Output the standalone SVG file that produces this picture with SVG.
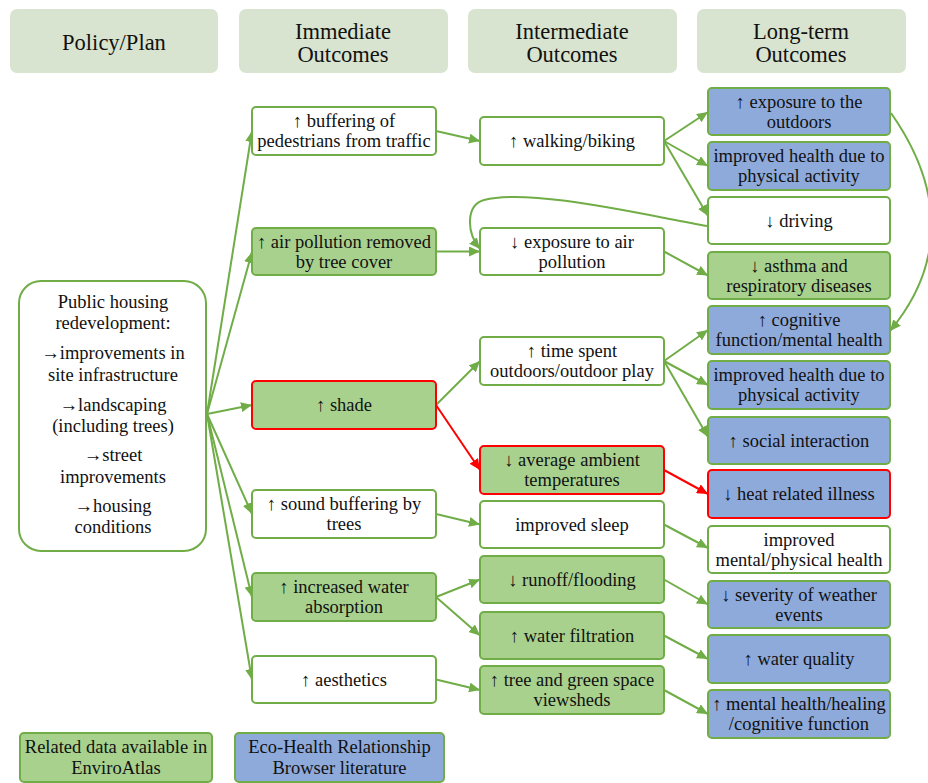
<svg xmlns="http://www.w3.org/2000/svg" width="928" height="783" viewBox="0 0 928 783">
<style>
.hdr{fill:#d8e4d0}
.ht{font-size:22.5px;fill:#111;text-anchor:middle}
.t{font-size:18.5px;fill:#111;text-anchor:middle}
.w{fill:#fff;stroke:#70ad47;stroke-width:2}
.g{fill:#a9d18e;stroke:#70ad47;stroke-width:2}
.b{fill:#8eaadb;stroke:#70ad47;stroke-width:2}
.gr{fill:#a9d18e;stroke:#ff0000;stroke-width:2}
.br{fill:#8eaadb;stroke:#ff0000;stroke-width:2}
.c{fill:none;stroke:#70ad47;stroke-width:2}
.cr{fill:none;stroke:#ff0000;stroke-width:2}
</style>
<defs>
<marker id="ag" markerUnits="userSpaceOnUse" markerWidth="12" markerHeight="10" refX="11" refY="5" orient="auto"><path d="M0,0 L11,5 L0,10 Z" fill="#70ad47"/></marker>
<marker id="ar" markerUnits="userSpaceOnUse" markerWidth="12" markerHeight="10" refX="11" refY="5" orient="auto"><path d="M0,0 L11,5 L0,10 Z" fill="#ff0000"/></marker>
</defs>
<rect width="928" height="783" fill="#fff"/>
<g font-family="'Liberation Serif', 'Times New Roman', 'DejaVu Serif', serif">
<g id="headers">
<rect class="hdr" x="10" y="9" width="208" height="64" rx="7"/>
<text class="ht" x="114" y="50">Policy/Plan</text>
<rect class="hdr" x="239" y="9" width="209" height="64" rx="7"/>
<text class="ht" x="343" y="39">Immediate</text><text class="ht" x="343" y="62">Outcomes</text>
<rect class="hdr" x="468" y="9" width="209" height="64" rx="7"/>
<text class="ht" x="572" y="39">Intermediate</text><text class="ht" x="572" y="62">Outcomes</text>
<rect class="hdr" x="697" y="9" width="209" height="64" rx="7"/>
<text class="ht" x="801" y="39">Long-term</text><text class="ht" x="801" y="62">Outcomes</text>
</g>
<g id="connectors">
<path class="c" marker-end="url(#ag)" d="M207,414 L252,131"/>
<path class="c" marker-end="url(#ag)" d="M207,414 L252,252"/>
<path class="c" marker-end="url(#ag)" d="M207,414 L252,405"/>
<path class="c" marker-end="url(#ag)" d="M207,414 L252,514"/>
<path class="c" marker-end="url(#ag)" d="M207,414 L252,597"/>
<path class="c" marker-end="url(#ag)" d="M207,414 L252,680"/>
<path class="c" marker-end="url(#ag)" d="M436,131 L480,141"/>
<path class="c" marker-end="url(#ag)" d="M436,251.5 L480,251.5"/>
<path class="c" marker-end="url(#ag)" d="M436,405 L480,361"/>
<path class="cr" marker-end="url(#ar)" d="M436,405 L480,470"/>
<path class="c" marker-end="url(#ag)" d="M436,514 L480,524.5"/>
<path class="c" marker-end="url(#ag)" d="M436,597 L480,579.5"/>
<path class="c" marker-end="url(#ag)" d="M436,597 L480,635.5"/>
<path class="c" marker-end="url(#ag)" d="M436,679.5 L480,690"/>
<path class="c" marker-end="url(#ag)" d="M664,141 L708,112"/>
<path class="c" marker-end="url(#ag)" d="M664,141 L708,166"/>
<path class="c" marker-end="url(#ag)" d="M664,141 L708,216"/>
<path class="c" marker-end="url(#ag)" d="M664,251.5 L708,275.5"/>
<path class="c" marker-end="url(#ag)" d="M707,226 C640,214 530,188 484,200 C466,205 466,232 480,249"/>
<path class="c" marker-end="url(#ag)" d="M664,361 L708,330"/>
<path class="c" marker-end="url(#ag)" d="M664,361 L708,385"/>
<path class="c" marker-end="url(#ag)" d="M664,361 L708,437"/>
<path class="cr" marker-end="url(#ar)" d="M664,470 L708,494"/>
<path class="c" marker-end="url(#ag)" d="M664,524.5 L708,548"/>
<path class="c" marker-end="url(#ag)" d="M664,579.5 L708,604.5"/>
<path class="c" marker-end="url(#ag)" d="M664,635.5 L708,659"/>
<path class="c" marker-end="url(#ag)" d="M664,690 L708,714"/>
<path class="c" marker-end="url(#ag)" d="M891,113 C945,190 945,265 890,331"/>
</g>
<g id="policy">
<rect class="w" x="19" y="281" width="187" height="270" rx="22"/>
<text class="t" x="113" y="308">Public housing</text>
<text class="t" x="113" y="329">redevelopment:</text>
<text class="t" x="113" y="359">→improvements in</text>
<text class="t" x="113" y="381">site infrastructure</text>
<text class="t" x="113" y="411">→landscaping</text>
<text class="t" x="113" y="432">(including trees)</text>
<text class="t" x="113" y="461">→street</text>
<text class="t" x="113" y="483">improvements</text>
<text class="t" x="113" y="512">→housing</text>
<text class="t" x="113" y="533">conditions</text>
</g>
<g id="imm1"><rect class="w" x="252" y="107" width="184" height="48" rx="4"/><text class="t" x="344" y="127">↑ buffering of</text><text class="t" x="344" y="147">pedestrians from traffic</text></g>
<g id="imm2"><rect class="g" x="252" y="228" width="184" height="47" rx="4"/><text class="t" x="344" y="247.5">↑ air pollution removed</text><text class="t" x="344" y="267.5">by tree cover</text></g>
<g id="imm3"><rect class="gr" x="252" y="381" width="184" height="48" rx="4"/><text class="t" x="344" y="411">↑ shade</text></g>
<g id="imm4"><rect class="w" x="252" y="490" width="184" height="48" rx="4"/><text class="t" x="344" y="510">↑ sound buffering by</text><text class="t" x="344" y="530">trees</text></g>
<g id="imm5"><rect class="g" x="252" y="573" width="184" height="48" rx="4"/><text class="t" x="344" y="593">↑ increased water</text><text class="t" x="344" y="613">absorption</text></g>
<g id="imm6"><rect class="w" x="252" y="656" width="184" height="47" rx="4"/><text class="t" x="344" y="685.5">↑ aesthetics</text></g>
<g id="int1"><rect class="w" x="480" y="117" width="184" height="48" rx="4"/><text class="t" x="572" y="147">↑ walking/biking</text></g>
<g id="int2"><rect class="w" x="480" y="228" width="184" height="47" rx="4"/><text class="t" x="572" y="247.5">↓ exposure to air</text><text class="t" x="572" y="267.5">pollution</text></g>
<g id="int3"><rect class="w" x="480" y="337" width="184" height="48" rx="4"/><text class="t" x="572" y="357">↑ time spent</text><text class="t" x="572" y="377">outdoors/outdoor play</text></g>
<g id="int4"><rect class="gr" x="480" y="446" width="184" height="48" rx="4"/><text class="t" x="572" y="466">↓ average ambient</text><text class="t" x="572" y="486">temperatures</text></g>
<g id="int5"><rect class="w" x="480" y="501" width="184" height="47" rx="4"/><text class="t" x="572" y="531">improved sleep</text></g>
<g id="int6"><rect class="g" x="480" y="556" width="184" height="47" rx="4"/><text class="t" x="572" y="586">↓ runoff/flooding</text></g>
<g id="int7"><rect class="g" x="480" y="612" width="184" height="47" rx="4"/><text class="t" x="572" y="641.5">↑ water filtration</text></g>
<g id="int8"><rect class="g" x="480" y="666" width="184" height="48" rx="4"/><text class="t" x="572" y="686">↑ tree and green space</text><text class="t" x="572" y="706">viewsheds</text></g>
<g id="lt1"><rect class="b" x="708" y="88" width="182" height="47" rx="4"/><text class="t" x="799" y="107.5">↑ exposure to the</text><text class="t" x="799" y="127.5">outdoors</text></g>
<g id="lt2"><rect class="b" x="708" y="142" width="182" height="48" rx="4"/><text class="t" x="799" y="162">improved health due to</text><text class="t" x="799" y="182">physical activity</text></g>
<g id="lt3"><rect class="w" x="708" y="197" width="182" height="47" rx="4"/><text class="t" x="799" y="226.5">↓ driving</text></g>
<g id="lt4"><rect class="g" x="708" y="252" width="182" height="47" rx="4"/><text class="t" x="799" y="271.5">↓ asthma and</text><text class="t" x="799" y="291.5">respiratory diseases</text></g>
<g id="lt5"><rect class="b" x="708" y="306" width="182" height="48" rx="4"/><text class="t" x="799" y="326">↑ cognitive</text><text class="t" x="799" y="346">function/mental health</text></g>
<g id="lt6"><rect class="b" x="708" y="361" width="182" height="48" rx="4"/><text class="t" x="799" y="381">improved health due to</text><text class="t" x="799" y="401">physical activity</text></g>
<g id="lt7"><rect class="b" x="708" y="417" width="182" height="47" rx="4"/><text class="t" x="799" y="446.5">↑ social interaction</text></g>
<g id="lt8"><rect class="br" x="708" y="470" width="182" height="48" rx="4"/><text class="t" x="799" y="500">↓ heat related illness</text></g>
<g id="lt9"><rect class="w" x="708" y="526" width="182" height="47" rx="4"/><text class="t" x="799" y="545.5">improved</text><text class="t" x="799" y="565.5">mental/physical health</text></g>
<g id="lt10"><rect class="b" x="708" y="581" width="182" height="47" rx="4"/><text class="t" x="799" y="600.5">↓ severity of weather</text><text class="t" x="799" y="620.5">events</text></g>
<g id="lt11"><rect class="b" x="708" y="635" width="182" height="48" rx="4"/><text class="t" x="799" y="665">↑ water quality</text></g>
<g id="lt12"><rect class="b" x="708" y="690" width="182" height="48" rx="4"/><text class="t" x="799" y="710">↑ mental health/healing</text><text class="t" x="799" y="730">/cognitive function</text></g>
<g id="legend-green"><rect class="g" x="20" y="733" width="192" height="49" rx="4"/><text class="t" x="116" y="753">Related data available in</text><text class="t" x="116" y="774">EnviroAtlas</text></g>
<g id="legend-blue"><rect class="b" x="235" y="733" width="209" height="49" rx="4"/><text class="t" x="339.5" y="753">Eco-Health Relationship</text><text class="t" x="339.5" y="774">Browser literature</text></g>
</g>
</svg>
